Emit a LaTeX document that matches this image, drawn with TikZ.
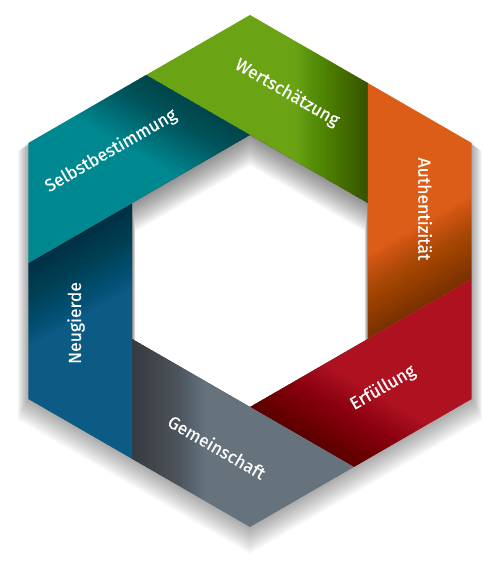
\documentclass[tikz,border=0pt]{standalone}
\usepackage{fontspec}
\setmainfont{Fira Sans}
\newfontfamily\lblfont{Fira Sans}[FakeBold=0.4]
\usepackage{tikz}
\usetikzlibrary{calc}
\definecolor{wgrn}{HTML}{6AA414}
\definecolor{worg}{HTML}{DC5D17}
\definecolor{wred}{HTML}{AE1120}
\definecolor{wgry}{HTML}{66727C}
\definecolor{wblu}{HTML}{0B5B84}
\definecolor{wtea}{HTML}{008891}
\tikzset{
  shd/.style   ={fill=black, opacity=#1},
  shd/.default =.03,
  lbl/.style   ={text=white, inner sep=0pt, font=\lblfont\fontsize{10}{12}\selectfont},
  hexa/.style 2 args={insert path={([shift={(0,#1)}]90:{#2}) -- ([shift={(0,#1)}]30:{#2})
      -- ([shift={(0,#1)}]-30:{#2}) -- ([shift={(0,#1)}]-90:{#2})
      -- ([shift={(0,#1)}]-150:{#2}) -- ([shift={(0,#1)}]150:{#2}) -- cycle}},
}
\begin{document}
\begin{tikzpicture}[x=.02cm, y=.02cm]
  \useasboundingbox (-250,-297) rectangle (250,271);
  % soft drop shadow, not inside the hole
  \foreach \i in {1,...,12}
    \fill[shd=.03, even odd rule] [hexa={-1.2*\i}{256+\i}] [hexa={0}{136}];
  % six bands, each one rotated by 60 degrees
  \foreach \c [count=\k from 0] in {wgrn,worg,wred,wgry,wblu,wtea}{
    \begin{scope}[rotate=-60*\k]
      \coordinate (a\k) at (-103.9,196);
      \coordinate (o\k) at (0,256);
      \coordinate (b\k) at (117.8,188);
      \coordinate (i\k) at (117.8,68);
      \fill[\c] (a\k) -- (o\k) -- (b\k) -- (i\k) -- cycle;
      \clip (a\k) -- (o\k) -- (b\k) -- (i\k) -- cycle;
      \foreach \j in {0,...,39}
        \fill[shd=.013] (45+1.8*\j,40) rectangle (130,270);
    \end{scope}
  }
  % shadow inside the hole
  \begin{scope}
    \clip [hexa={0}{136}];
    \foreach \i in {1,...,12}
      \fill[shd=.045, even odd rule] [hexa={0}{136}] [hexa={-2.2*\i}{136-.3*\i}];
  \end{scope}
  \node[lbl, rotate=-30] (wert) at (37,178)   {Wertschätzung};
  \node[lbl, rotate=-90] (auth) at (175,62)   {Authentizität};
  \node[lbl, rotate=30]  (erf)  at (133,-117) {Erfüllung};
  \node[lbl, rotate=-30] (gem)  at (-33,-176) {Gemeinschaft};
  \node[lbl, rotate=90]  (neu)  at (-174,-52) {Neugierde};
  \node[lbl, rotate=30]  (selb) at (-139,120) {Selbstbestimmung};
\end{tikzpicture}
\end{document}
